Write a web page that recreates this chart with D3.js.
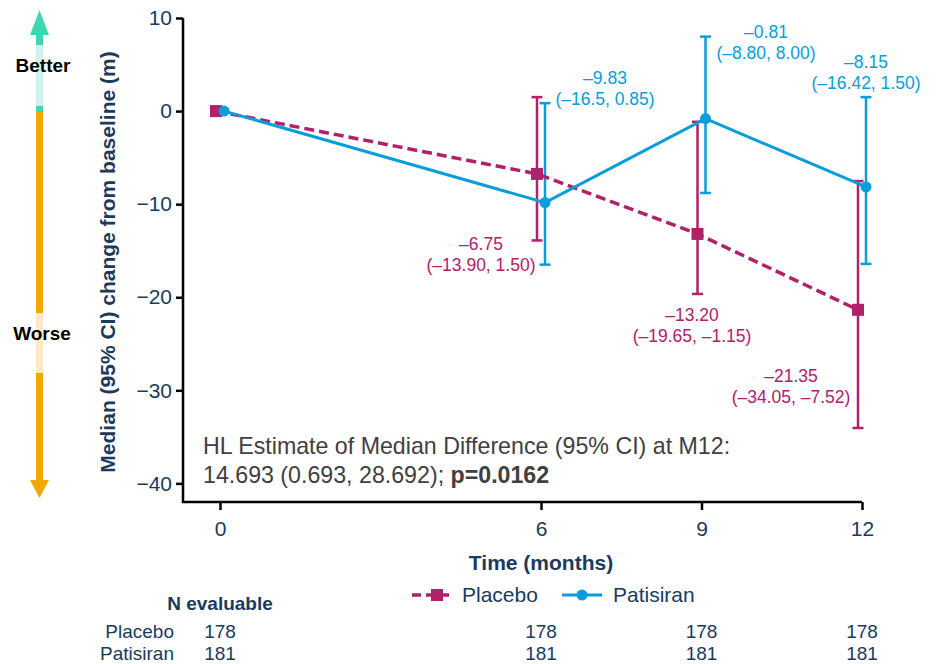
<!DOCTYPE html>
<html>
<head>
<meta charset="utf-8">
<script src="https://cdn.jsdelivr.net/npm/d3@7"></script>
<style>
  body { margin: 0; background: #fff; }
  svg { display: block; font-family: "Liberation Sans", Arial, sans-serif; }
</style>
</head>
<body>
<svg id="chart" width="936" height="664"></svg>
<script>
// values as printed on the chart (strings keep the printed decimals)
const months = [0, 6, 9, 12];
const placeboMedian = ["0", "-6.75", "-13.20", "-21.35"];
const placeboLower = [null, "-13.90", "-19.65", "-34.05"];
const placeboUpper = [null, "1.50", "-1.15", "-7.52"];
const patisiranMedian = ["0", "-9.83", "-0.81", "-8.15"];
const patisiranLower = [null, "-16.5", "-8.80", "-16.42"];
const patisiranUpper = [null, "0.85", "8.00", "1.50"];
const placeboN = [178, 178, 178, 178];
const patisiranN = [181, 181, 181, 181];
const yTicks = [10, 0, -10, -20, -30, -40];

const navy = "#1b3a5c";
const placeboColor = "#b0216a";
const patisiranColor = "#0a9ddb";

const svg = d3.select("#chart");

const x = d3.scaleLinear().domain([0, 12]).range([220, 862]);
const y = d3.scaleLinear().domain([-42, 10]).range([502, 18]);

const dash = s => s.replace("-", "\u2013");

function makeSeries(name, median, lower, upper, shift, color) {
    return months.map((m, i) => ({
        name: name,
        month: m,
        px: x(m) + shift,
        median: +median[i],
        lower: lower[i] == null ? null : +lower[i],
        upper: upper[i] == null ? null : +upper[i],
        label1: dash(median[i]),
        label2: lower[i] == null ? null : "(" + dash(lower[i]) + ", " + dash(upper[i]) + ")",
        color: color
    }));
}

const placebo = makeSeries("Placebo", placeboMedian, placeboLower, placeboUpper, -4, placeboColor);
const patisiran = makeSeries("Patisiran", patisiranMedian, patisiranLower, patisiranUpper, 4, patisiranColor);

// better / worse arrow
const arrow = svg.append("g");
arrow.append("rect").attr("x", 36).attr("y", 33).attr("width", 7).attr("height", 79).attr("fill", "#3fd6b1");
arrow.append("rect").attr("x", 36).attr("y", 45).attr("width", 7).attr("height", 61).attr("fill", "#cdf3ea");
arrow.append("polygon").attr("points", "39.5,10 30,35 49,35").attr("fill", "#3fd6b1");
arrow.append("rect").attr("x", 36).attr("y", 112).attr("width", 7).attr("height", 370).attr("fill", "#eeaa00");
arrow.append("rect").attr("x", 36).attr("y", 313).attr("width", 7).attr("height", 60).attr("fill", "#fbe9c4");
arrow.append("polygon").attr("points", "30,480 49,480 39.5,498").attr("fill", "#eeaa00");
arrow.append("text").attr("x", 43).attr("y", 72).attr("text-anchor", "middle")
    .attr("font-size", 19).attr("font-weight", "bold").attr("fill", "#000").text("Better");
arrow.append("text").attr("x", 42).attr("y", 340).attr("text-anchor", "middle")
    .attr("font-size", 19).attr("font-weight", "bold").attr("fill", "#000").text("Worse");

// axes
const yAxis = svg.append("g")
    .attr("transform", "translate(183,0)")
    .call(d3.axisLeft(y).tickValues(yTicks).tickSize(7).tickPadding(4).tickSizeOuter(0));
yAxis.select(".domain").remove();
yAxis.selectAll(".tick line").attr("stroke", "#000").attr("stroke-width", 2.5);
yAxis.selectAll(".tick text").attr("font-size", 21).attr("fill", navy).attr("font-family", null);

const xAxis = svg.append("g")
    .attr("transform", "translate(0,502)")
    .call(d3.axisBottom(x).tickValues(months).tickSize(8).tickPadding(11).tickSizeOuter(0));
xAxis.select(".domain").remove();
xAxis.selectAll(".tick line").attr("stroke", "#000").attr("stroke-width", 2.5);
xAxis.selectAll(".tick text").attr("font-size", 21).attr("fill", navy).attr("font-family", null);

svg.append("path")
    .attr("d", "M183," + y(10) + "V502H" + x(12))
    .attr("fill", "none").attr("stroke", "#000").attr("stroke-width", 2.5);

// axis titles
svg.append("text")
    .attr("transform", "translate(115,262) rotate(-90)")
    .attr("text-anchor", "middle").attr("font-size", 21).attr("font-weight", "bold")
    .attr("fill", navy).text("Median (95% CI) change from baseline (m)");

svg.append("text")
    .attr("x", 541).attr("y", 570).attr("text-anchor", "middle")
    .attr("font-size", 21).attr("font-weight", "bold").attr("fill", navy)
    .text("Time (months)");

// error bars
function errorBars(data) {
    const g = svg.append("g")
        .attr("stroke", data[0].color).attr("stroke-width", 2.5).attr("fill", "none");
    const withCi = data.filter(d => d.lower != null);
    g.selectAll(".bar").data(withCi).enter().append("line")
        .attr("x1", d => d.px).attr("x2", d => d.px)
        .attr("y1", d => y(d.lower)).attr("y2", d => y(d.upper));
    g.selectAll(".capLow").data(withCi).enter().append("line")
        .attr("x1", d => d.px - 5.5).attr("x2", d => d.px + 5.5)
        .attr("y1", d => y(d.lower)).attr("y2", d => y(d.lower));
    g.selectAll(".capHigh").data(withCi).enter().append("line")
        .attr("x1", d => d.px - 5.5).attr("x2", d => d.px + 5.5)
        .attr("y1", d => y(d.upper)).attr("y2", d => y(d.upper));
}
errorBars(placebo);
errorBars(patisiran);

const line = d3.line().x(d => d.px).y(d => y(d.median));

svg.append("path").datum(placebo)
    .attr("d", line).attr("fill", "none")
    .attr("stroke", placeboColor).attr("stroke-width", 3.5).attr("stroke-dasharray", "10,5");
svg.selectAll(".sq").data(placebo).enter().append("rect")
    .attr("x", d => d.px - 6).attr("y", d => y(d.median) - 6)
    .attr("width", 12).attr("height", 12).attr("fill", placeboColor);

svg.append("path").datum(patisiran)
    .attr("d", line).attr("fill", "none")
    .attr("stroke", patisiranColor).attr("stroke-width", 3);
svg.selectAll(".dot").data(patisiran).enter().append("circle")
    .attr("cx", d => d.px).attr("cy", d => y(d.median))
    .attr("r", 5.5).attr("fill", patisiranColor);

// value labels: offsets from the month position and median
const placeboLabelOffset = [null, [-60, 76], [-9.5, 87], [-71, 72]];
const patisiranLabelOffset = [null, [64, -119], [64.5, -81], [4, -119]];

function valueLabels(data, offsets) {
    data.forEach((d, i) => {
        if (d.label2 == null) return;
        const lx = x(d.month) + offsets[i][0];
        const ly = y(d.median) + offsets[i][1];
        const t = svg.append("text")
            .attr("text-anchor", "middle").attr("font-size", 17.5).attr("fill", d.color);
        t.append("tspan").attr("x", lx).attr("y", ly).text(d.label1);
        t.append("tspan").attr("x", lx).attr("y", ly + 21).text(d.label2);
    });
}
valueLabels(placebo, placeboLabelOffset);
valueLabels(patisiran, patisiranLabelOffset);

// HL estimate note
const note = svg.append("text").attr("font-size", 23.2).attr("fill", "#404040");
note.append("tspan").attr("x", 203).attr("y", 454)
    .text("HL Estimate of Median Difference (95% CI) at M12:");
const note2 = note.append("tspan").attr("x", 203).attr("y", 483);
note2.append("tspan").text("14.693 (0.693, 28.692); ");
note2.append("tspan").attr("font-weight", "bold").text("p=0.0162");

// legend
const legend = svg.append("g");
legend.append("line").attr("x1", 412).attr("x2", 452).attr("y1", 595).attr("y2", 595)
    .attr("stroke", placeboColor).attr("stroke-width", 3.5).attr("stroke-dasharray", "9,5");
legend.append("rect").attr("x", 431).attr("y", 589).attr("width", 12).attr("height", 12)
    .attr("fill", placeboColor);
legend.append("text").attr("x", 462).attr("y", 602).attr("font-size", 21).attr("fill", navy)
    .text("Placebo");
legend.append("line").attr("x1", 562).attr("x2", 602).attr("y1", 595).attr("y2", 595)
    .attr("stroke", patisiranColor).attr("stroke-width", 3);
legend.append("circle").attr("cx", 582).attr("cy", 595).attr("r", 5.5).attr("fill", patisiranColor);
legend.append("text").attr("x", 613).attr("y", 602).attr("font-size", 21).attr("fill", navy)
    .text("Patisiran");

// N evaluable table
svg.append("text").attr("x", 220).attr("y", 610).attr("text-anchor", "middle")
    .attr("font-size", 19).attr("font-weight", "bold").attr("fill", navy).text("N evaluable");

const rows = [
    { name: "Placebo", n: placeboN, yPos: 638 },
    { name: "Patisiran", n: patisiranN, yPos: 660 }
];
rows.forEach(r => {
    svg.append("text").attr("x", 174).attr("y", r.yPos).attr("text-anchor", "end")
        .attr("font-size", 19).attr("fill", navy).text(r.name);
    svg.selectAll(null).data(r.n).enter().append("text")
        .attr("x", (d, i) => x(months[i])).attr("y", r.yPos).attr("text-anchor", "middle")
        .attr("font-size", 19).attr("fill", navy).text(d => d);
});
</script>
</body>
</html>
